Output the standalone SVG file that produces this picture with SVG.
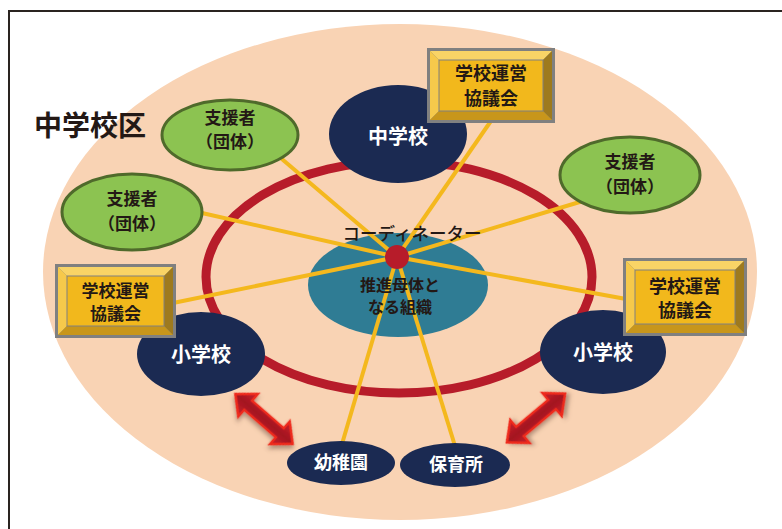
<svg xmlns="http://www.w3.org/2000/svg" width="782" height="529" viewBox="0 0 782 529">
<defs>
<style>
.jp{font-family:"Noto Sans CJK JP","Noto Sans CJK SC",sans-serif;}
.dk{fill:#231815;font-weight:bold;text-anchor:middle;}
.wt{fill:#ffffff;font-weight:bold;text-anchor:middle;}
.navy{fill:#1b2a52;}
.green{fill:#8cc351;stroke:#4f6a2b;stroke-width:3;}
.conn{stroke:#f4b81d;stroke-width:4;stroke-linecap:butt;fill:none;}
.bout{fill:#808080;}
.btop{fill:#f9d466;}
.bleft{fill:#f6c94b;}
.bright{fill:#9e7a1e;}
.bbot{fill:#c8961b;}
.bface{fill:#f2b81c;stroke:#808080;stroke-width:1;}
.arr{stroke:#ee2b1f;stroke-width:2.5;stroke-linejoin:miter;filter:url(#sh);}
</style>
<filter id="sh" x="-30%" y="-30%" width="160%" height="160%">
<feDropShadow dx="2" dy="3" stdDeviation="2" flood-color="#6b4a3a" flood-opacity="0.5"/>
</filter>
<linearGradient id="ag" x1="0" y1="0" x2="0" y2="1">
<stop offset="0" stop-color="#c9202c"/>
<stop offset="0.5" stop-color="#a3161f"/>
<stop offset="1" stop-color="#c9202c"/>
</linearGradient>
</defs>
<rect width="782" height="529" fill="#ffffff"/>
<path d="M9,529 V11 H782" fill="none" stroke="#2a2420" stroke-width="2"/>
<g id="district">
<ellipse cx="400" cy="272" rx="357" ry="248" fill="#f9d3b4"/>
<text class="jp dk" x="90" y="136" font-size="28">中学校区</text>
</g>
<g id="ring">
<ellipse cx="399" cy="277" rx="193" ry="116" fill="none" stroke="#b71c2a" stroke-width="9"/>
</g>
<g id="hub">
<ellipse cx="398" cy="285" rx="90" ry="52" fill="#2f7c94"/>
</g>
<g id="connectors">
<line class="conn" x1="397" y1="257" x2="276" y2="154"/>
<line class="conn" x1="397" y1="257" x2="493" y2="118"/>
<line class="conn" x1="397" y1="257" x2="583" y2="201"/>
<line class="conn" x1="397" y1="257" x2="626" y2="299"/>
<line class="conn" x1="397" y1="257" x2="202" y2="213"/>
<line class="conn" x1="397" y1="257" x2="173" y2="303"/>
<line class="conn" x1="397" y1="257" x2="342" y2="444"/>
<line class="conn" x1="397" y1="257" x2="455" y2="446"/>
</g>
<g id="coordinator">
<circle cx="397" cy="257" r="12" fill="#b71c2a"/>
<text class="jp" x="412" y="240" font-size="17.5" fill="#231815" text-anchor="middle" font-weight="500">コーディネーター</text>
<text class="jp dk" x="400" y="291" font-size="16">推進母体と</text>
<text class="jp dk" x="400" y="313" font-size="16">なる組織</text>
</g>
<g id="juniorhigh">
<ellipse class="navy" cx="398" cy="134" rx="69" ry="49"/>
<text class="jp wt" x="398" y="144" font-size="20">中学校</text>
</g>
<g id="elem-left">
<ellipse class="navy" cx="201" cy="354" rx="64" ry="42"/>
<text class="jp wt" x="201" y="362" font-size="20">小学校</text>
</g>
<g id="elem-right">
<ellipse class="navy" cx="603" cy="352" rx="63" ry="42"/>
<text class="jp wt" x="603" y="360" font-size="20">小学校</text>
</g>
<g id="kindergarten">
<ellipse class="navy" cx="341" cy="463" rx="54" ry="22"/>
<text class="jp wt" x="341" y="469" font-size="18">幼稚園</text>
</g>
<g id="nursery">
<ellipse class="navy" cx="455" cy="465" rx="55" ry="22"/>
<text class="jp wt" x="456" y="471" font-size="18">保育所</text>
</g>
<g id="support-1">
<ellipse class="green" cx="230" cy="135" rx="68" ry="35"/>
<text class="jp dk" x="230" y="124" font-size="17">支援者</text>
<text class="jp dk" x="230" y="148" font-size="17">（団体）</text>
</g>
<g id="support-2">
<ellipse class="green" cx="132" cy="212" rx="70" ry="38"/>
<text class="jp dk" x="132" y="205" font-size="17">支援者</text>
<text class="jp dk" x="132" y="230" font-size="17">（団体）</text>
</g>
<g id="support-3">
<ellipse class="green" cx="630" cy="175" rx="70" ry="38"/>
<text class="jp dk" x="630" y="168" font-size="17">支援者</text>
<text class="jp dk" x="630" y="193" font-size="17">（団体）</text>
</g>
<g id="council-top">
<rect class="bout" x="427" y="48" width="128" height="75"/>
<polygon class="btop" points="430,51 552,51 543,60 439,60"/>
<polygon class="bleft" points="430,51 439,60 439,111 430,120"/>
<polygon class="bright" points="552,51 552,120 543,111 543,60"/>
<polygon class="bbot" points="430,120 439,111 543,111 552,120"/>
<rect class="bface" x="439" y="60" width="104" height="51"/>
<text class="jp dk" x="491" y="80" font-size="18">学校運営</text>
<text class="jp dk" x="491" y="105" font-size="18">協議会</text>
</g>
<g id="council-left">
<rect class="bout" x="55" y="264" width="121" height="74"/>
<polygon class="btop" points="58,267 173,267 164,276 67,276"/>
<polygon class="bleft" points="58,267 67,276 67,326 58,335"/>
<polygon class="bright" points="173,267 173,335 164,326 164,276"/>
<polygon class="bbot" points="58,335 67,326 164,326 173,335"/>
<rect class="bface" x="67" y="276" width="97" height="50"/>
<text class="jp dk" x="115.5" y="297" font-size="17">学校運営</text>
<text class="jp dk" x="115.5" y="320" font-size="17">協議会</text>
</g>
<g id="council-right">
<rect class="bout" x="623" y="258" width="124" height="78"/>
<polygon class="btop" points="626,261 744,261 735,270 635,270"/>
<polygon class="bleft" points="626,261 635,270 635,324 626,333"/>
<polygon class="bright" points="744,261 744,333 735,324 735,270"/>
<polygon class="bbot" points="626,333 635,324 735,324 744,333"/>
<rect class="bface" x="635" y="270" width="100" height="54"/>
<text class="jp dk" x="685" y="293" font-size="18">学校運営</text>
<text class="jp dk" x="685" y="317" font-size="18">協議会</text>
</g>
<g id="arrow-left" transform="translate(264,419) rotate(41)">
<polygon class="arr" style="fill:url(#ag)" points="-38,0 -21,-15 -21,-6 21,-6 21,-15 38,0 21,15 21,6 -21,6 -21,15"/>
</g>
<g id="arrow-right" transform="translate(536,418) rotate(-40)">
<polygon class="arr" style="fill:url(#ag)" points="-38,0 -21,-15 -21,-6 21,-6 21,-15 38,0 21,15 21,6 -21,6 -21,15"/>
</g>
</svg>
